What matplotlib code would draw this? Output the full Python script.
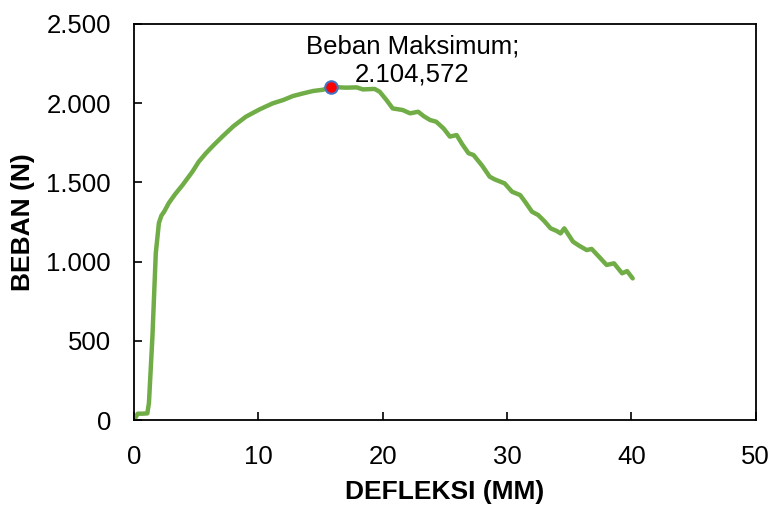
import matplotlib
matplotlib.use("Agg")
import matplotlib.pyplot as plt
from matplotlib.ticker import FuncFormatter

plt.rcParams['font.family'] = ['Liberation Sans', 'DejaVu Sans']

# Data
defleksi = [0.0, 0.3, 0.7, 1.07, 1.2, 1.48, 1.75, 2.0, 2.2, 2.42, 2.8, 3.3, 3.9,
            4.7, 5.2, 5.78, 6.4, 7.1, 8.0, 9.0, 10.1, 11.15, 12.0, 12.77, 13.6,
            14.4, 15.2, 15.86, 16.5, 17.07, 17.9, 18.4, 19.35, 19.76, 20.3, 20.8,
            21.6, 22.2, 22.85, 23.3, 23.8, 24.3, 24.9, 25.4, 25.94, 26.4, 26.9,
            27.3, 28.0, 28.6, 29.0, 29.8, 30.4, 31.05, 31.5, 32.0, 32.5, 33.0,
            33.5, 34.0, 34.3, 34.6, 35.3, 35.8, 36.4, 36.8, 37.4, 38.0, 38.6,
            39.25, 39.65, 40.1]
beban = [0, 40, 40, 42, 107, 526, 1053, 1243, 1290, 1315, 1370, 1425, 1483,
         1568, 1630, 1684, 1735, 1789, 1855, 1915, 1961, 1999, 2020, 2045, 2062,
         2077, 2085, 2104.572, 2100, 2098, 2100, 2087, 2090, 2072, 2020, 1967,
         1957, 1936, 1946, 1918, 1894, 1883, 1840, 1789, 1799, 1740, 1684,
         1673, 1605, 1536, 1519, 1494, 1441, 1420, 1372, 1315, 1294, 1255,
         1210, 1193, 1178, 1210, 1126, 1100, 1073, 1080, 1030, 979, 989,
         926, 940, 894]
max_x = 15.86
max_y = 2104.572
max_label = "Beban Maksimum;\n2.104,572"
x_ticks = [0, 10, 20, 30, 40, 50]
y_ticks = [0, 500, 1000, 1500, 2000, 2500]

fig = plt.figure(figsize=(7.72, 5.05), dpi=100)
ax = fig.add_axes([0.1736, 0.1683, 0.8054, 0.7842])

ax.plot(defleksi, beban, color='#70AD47', linewidth=3.2, solid_capstyle='round',
        solid_joinstyle='round', zorder=2)
ax.plot([max_x], [max_y], 'o', markersize=9, markerfacecolor='#FF0000',
        markeredgecolor='#4472C4', markeredgewidth=1.5, zorder=3)
ax.text(22.38, 2134, max_label, ha='center', va='baseline', multialignment='center',
        fontsize=18.5, linespacing=1.25)

ax.set_xlim(0, 50)
ax.set_ylim(0, 2500)
ax.set_xticks(x_ticks)
ax.set_yticks(y_ticks)

def thousands(v, pos):
    return f"{int(v):,}".replace(",", ".")

ax.yaxis.set_major_formatter(FuncFormatter(thousands))
ax.tick_params(direction='in', length=6, width=1.2, labelsize=18.5, colors='black')
ax.tick_params(axis='x', pad=18)
ax.tick_params(axis='y', pad=16.5)

for s in ['top', 'right', 'left', 'bottom']:
    ax.spines[s].set_linewidth(1.3)
    ax.spines[s].set_color('black')

ax.set_xlabel('DEFLEKSI (MM)', fontsize=19, fontweight='bold', labelpad=8)
ax.set_ylabel('BEBAN (N)', fontsize=19, fontweight='bold', labelpad=8)

fig.savefig('out.png', dpi=100)
